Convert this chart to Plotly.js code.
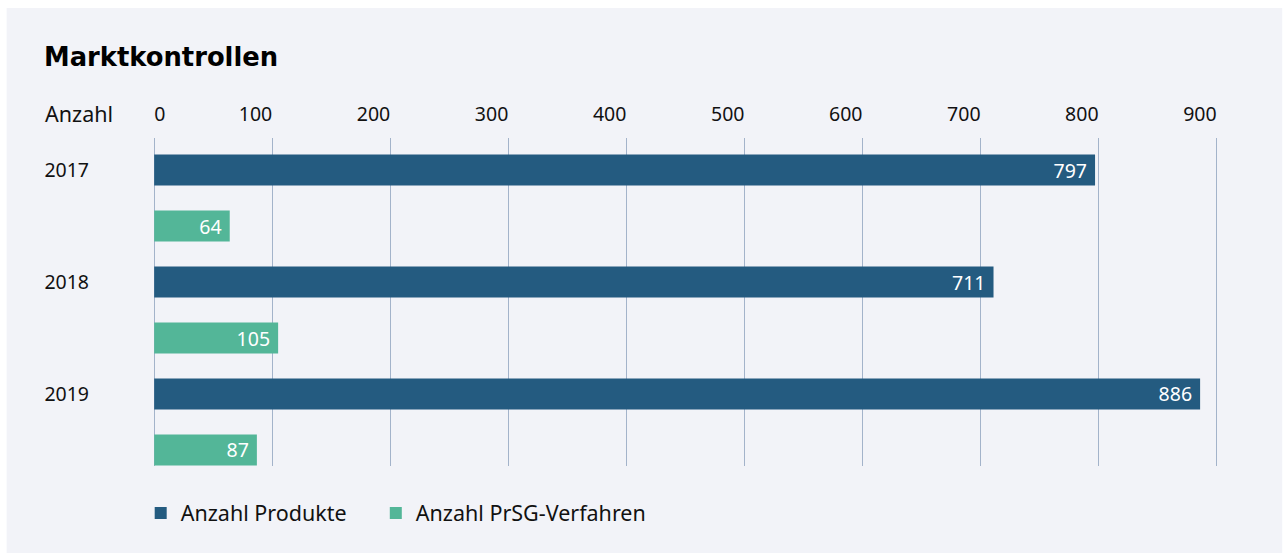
<!DOCTYPE html>
<html>
<head>
<meta charset="utf-8">
<script src="https://cdn.plot.ly/plotly-3.0.1.min.js"></script>
<style>
html,body{margin:0;padding:0;background:#ffffff;}
#chart{width:1285px;height:553px;}
</style>
</head>
<body>
<div id="chart"></div>
<script>
const years = ['2017', '2018', '2019'];
const produkte = [797, 711, 886];
const verfahren = [64, 105, 87];
const seriesNames = ['Anzahl Produkte', 'Anzahl PrSG-Verfahren'];
const xTickVals = [100, 200, 300, 400, 500, 600, 700, 800, 900];
const xTickText = ['100', '200', '300', '400', '500', '600', '700', '800', '900'];
const xZeroVal = [0];
const xZeroText = ['0'];

const FONT = 'Noto Sans, Open Sans, sans-serif';
const TFONT = 'DejaVu Sans, Noto Sans, sans-serif';
const TXT = '#111111';
const NUM = 19.5;
const WORD = 21.5;

const traces = [
  {
    type: 'bar', orientation: 'h', name: seriesNames[0], legend: 'legend',
    y: years, x: produkte,
    marker: {color: '#245b80'},
    texttemplate: '%{x}\u00a0', textposition: 'inside', insidetextanchor: 'end',
    insidetextfont: {family: FONT, size: NUM, color: '#ffffff'},
    constraintext: 'none', cliponaxis: false, hoverinfo: 'skip'
  },
  {
    type: 'bar', orientation: 'h', name: seriesNames[1], legend: 'legend2',
    y: years, x: verfahren,
    marker: {color: '#53b698'},
    texttemplate: '%{x}\u00a0', textposition: 'inside', insidetextanchor: 'end',
    insidetextfont: {family: FONT, size: NUM, color: '#ffffff'},
    constraintext: 'none', cliponaxis: false, hoverinfo: 'skip'
  }
];

const L = 153.3, R = 66.2, T = 138, B = 87;
const W = 1285 - L - R, H = 553 - T - B;
const px2x = p => (p - L) / W;
const py2y = p => (553 - B - p) / H;

const legendBase = {
  orientation: 'h', xanchor: 'left',
  y: py2y(513), yanchor: 'middle',
  bgcolor: 'rgba(0,0,0,0)', borderwidth: 0,
  font: {family: FONT, size: WORD, color: TXT}
};

const layout = {
  width: 1285, height: 553,
  margin: {l: L, r: R, t: T, b: B, pad: 0},
  paper_bgcolor: '#ffffff',
  plot_bgcolor: 'rgba(0,0,0,0)',
  font: {family: FONT, size: NUM, color: TXT},
  barmode: 'group', bargap: 0, bargroupgap: 0.446,
  showlegend: true,
  title: {
    text: '<b>Marktkontrollen</b>',
    font: {family: TFONT, size: 25.8, color: '#000000'},
    xref: 'container', yref: 'container',
    x: 44 / 1285, xanchor: 'left',
    y: 1 - 57 / 553, yanchor: 'middle'
  },
  xaxis: {
    range: [-1, 902], side: 'top',
    tickvals: xTickVals, ticktext: xTickText,
    ticklabelposition: 'outside left',
    ticks: '', showline: false, zeroline: false,
    showgrid: true, gridcolor: '#a3b3ca', gridwidth: 1.3,
    tickfont: {family: FONT, size: NUM, color: TXT},
    ticklabelstandoff: 12, fixedrange: true
  },
  xaxis2: {
    matches: 'x', overlaying: 'x', side: 'top',
    tickvals: xZeroVal, ticktext: xZeroText,
    ticklabelposition: 'outside right',
    ticks: '', showline: false, zeroline: false,
    showgrid: true, gridcolor: '#a3b3ca', gridwidth: 1.3,
    tickfont: {family: FONT, size: NUM, color: TXT},
    ticklabelstandoff: 12, fixedrange: true
  },
  yaxis: {
    type: 'category', range: [2.393, -0.536],
    ticks: '', showline: false, zeroline: false, showgrid: false,
    tickfont: {family: FONT, size: NUM, color: TXT},
    ticklabelstandoff: 63, ticklabelshift: 28, fixedrange: true
  },
  legend: Object.assign({}, legendBase, {x: px2x(141)}),
  legend2: Object.assign({}, legendBase, {x: px2x(376)}),
  shapes: [{
    type: 'rect', xref: 'paper', yref: 'paper', layer: 'below',
    x0: px2x(7), x1: px2x(1282), y0: py2y(553), y1: py2y(8),
    fillcolor: '#f2f3f8', line: {width: 0}
  }],
  annotations: [{
    text: 'Anzahl', xref: 'paper', yref: 'paper',
    x: px2x(43), xanchor: 'left', y: py2y(114), yanchor: 'middle',
    showarrow: false, font: {family: FONT, size: WORD, color: TXT}
  }]
};

// invisible helper trace so that the overlaying axis carrying the "0" label is drawn
traces.push({type: 'scatter', x: [0], y: ['2017'], xaxis: 'x2', mode: 'markers',
  marker: {opacity: 0}, showlegend: false, hoverinfo: 'skip'});

Plotly.newPlot('chart', traces, layout, {displayModeBar: false, staticPlot: true});
</script>
</body>
</html>
